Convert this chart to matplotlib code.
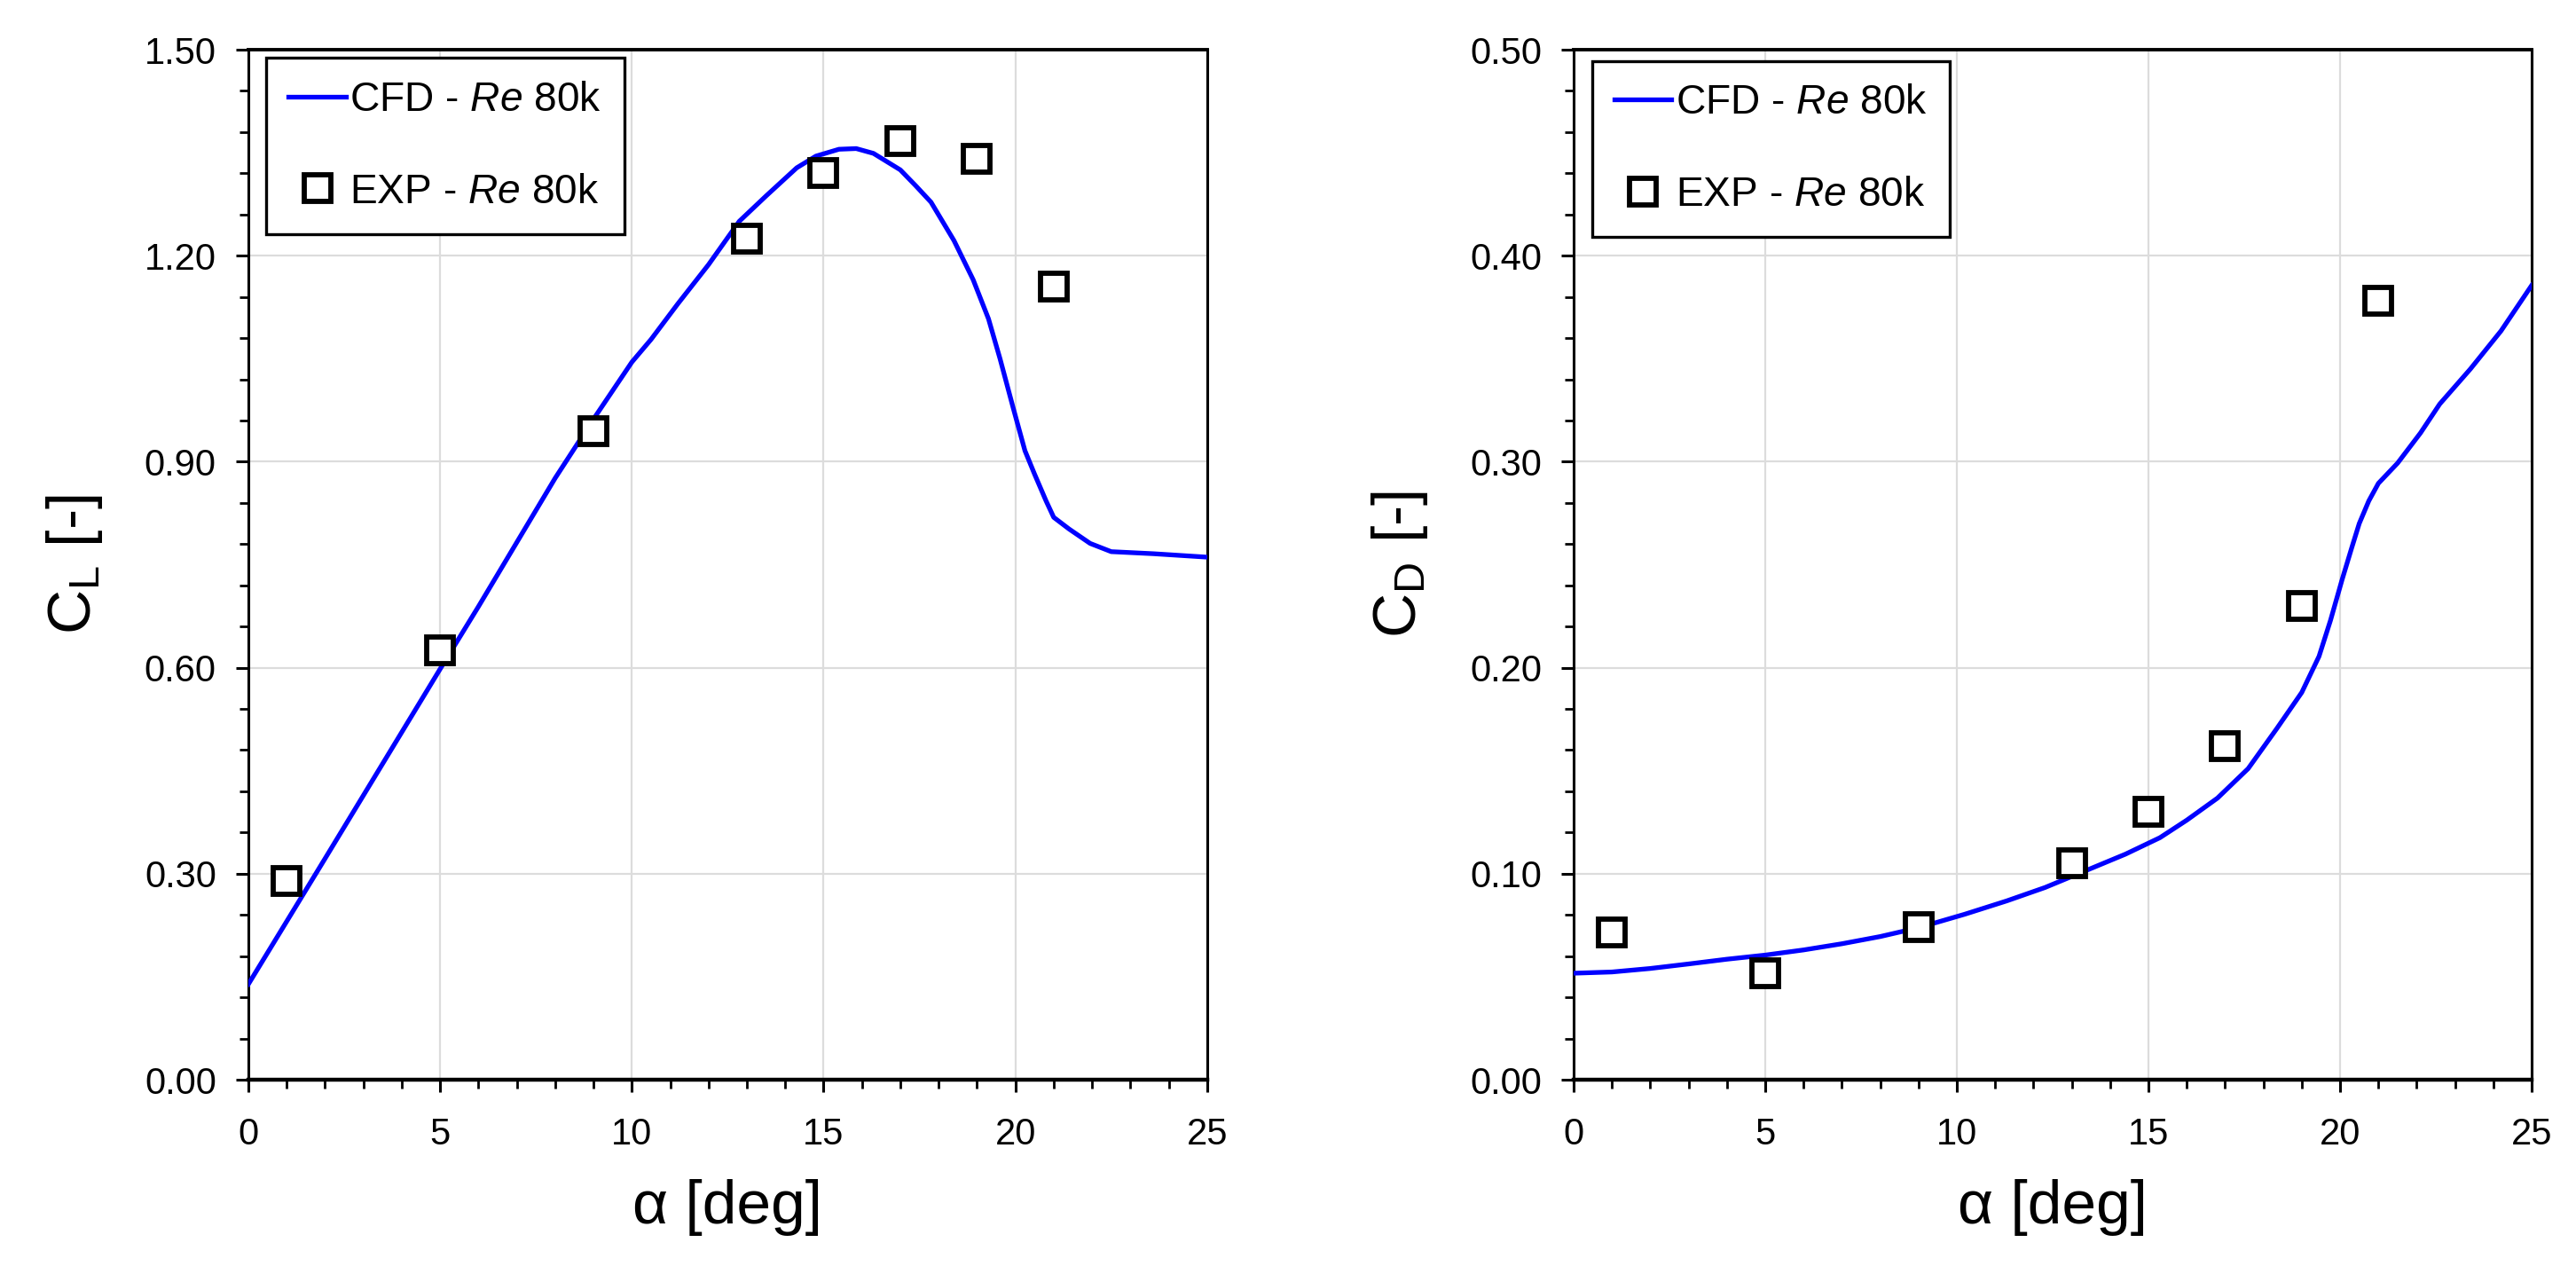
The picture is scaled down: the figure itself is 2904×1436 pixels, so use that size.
import matplotlib
matplotlib.use("Agg")
import matplotlib.pyplot as plt
from matplotlib.ticker import MultipleLocator, FormatStrFormatter

plt.rcParams['font.family'] = ['Liberation Sans', 'DejaVu Sans']
plt.rcParams['mathtext.fontset'] = 'custom'
plt.rcParams['mathtext.rm'] = 'Liberation Sans'
plt.rcParams['mathtext.it'] = 'Liberation Sans:italic'

# ---- data ----
cfd_alpha_cl = [0, 2, 4, 5, 6, 8, 9, 10, 10.5, 11.2, 12, 12.8, 13.5, 14.3, 14.8, 15.4,
                15.85, 16.3, 17.0, 17.4, 17.8, 18.4, 18.9, 19.3, 19.6, 19.95, 20.25,
                20.5, 20.8, 21.0, 21.4, 21.95, 22.5, 23.6, 25]
cfd_cl = [0.139, 0.322, 0.506, 0.598, 0.689, 0.876, 0.962, 1.045, 1.078, 1.13, 1.187,
          1.25, 1.287, 1.328, 1.345, 1.355, 1.356, 1.349, 1.325, 1.302, 1.278, 1.222,
          1.165, 1.108, 1.05, 0.977, 0.916, 0.882, 0.843, 0.819, 0.802, 0.781, 0.769,
          0.766, 0.761]

exp_alpha = [1, 5, 9, 13, 15, 17, 19, 21]
exp_cl = [0.29, 0.625, 0.945, 1.225, 1.32, 1.367, 1.341, 1.155]

cfd_alpha_cd = [0, 1, 2, 3, 4, 5, 6, 7, 8, 9, 10.2, 11.3, 12.3, 13.3, 14.4, 15.3, 16.0,
                16.8, 17.6, 18.35, 19.0, 19.45, 19.75, 20.05, 20.3, 20.5, 20.75, 21.0,
                21.5, 22.1, 22.6, 23.4, 24.2, 25]
cfd_cd = [0.0517, 0.0523, 0.054, 0.0562, 0.0585, 0.0605, 0.063, 0.066, 0.0695, 0.0738,
          0.0803, 0.0868, 0.0933, 0.101, 0.1095, 0.1175, 0.126, 0.1367, 0.151, 0.1705,
          0.188, 0.2055, 0.223, 0.2426, 0.258, 0.270, 0.281, 0.2895, 0.2993, 0.314,
          0.328, 0.345, 0.3635, 0.3856]

exp_cd = [0.0717, 0.0516, 0.074, 0.105, 0.13, 0.162, 0.23, 0.378]

cfd_label = r'CFD - $\mathit{Re}$ 80k'
exp_label = r'EXP - $\mathit{Re}$ 80k'

fig = plt.figure(figsize=(14.52, 7.18), dpi=200)
ax1 = fig.add_axes([0.0964, 0.1525, 0.3722, 0.8085])
ax2 = fig.add_axes([0.6109, 0.1525, 0.3719, 0.8085])


def style(ax, ymax, ymajor, yminor, ylabel, legxy):
    ax.set_xlim(0, 25)
    ax.set_ylim(0, ymax)
    ax.xaxis.set_major_locator(MultipleLocator(5))
    ax.xaxis.set_minor_locator(MultipleLocator(1))
    ax.yaxis.set_major_locator(MultipleLocator(ymajor))
    ax.yaxis.set_minor_locator(MultipleLocator(yminor))
    ax.yaxis.set_major_formatter(FormatStrFormatter('%.2f'))
    ax.grid(True, which='major', color='#dcdcdc', linewidth=0.8, zorder=0)
    ax.set_axisbelow(True)
    ax.tick_params(which='major', direction='out', length=5, width=1.1,
                   labelsize=15, pad=8, color='black')
    ax.tick_params(which='minor', direction='out', length=3.5, width=1.0, color='black')
    ax.tick_params(axis='x', which='major', pad=10)
    for s in ['left', 'right']:
        ax.spines[s].set_linewidth(1.1)
    ax.spines['top'].set_linewidth(1.4)
    ax.spines['bottom'].set_linewidth(1.6)
    ax.set_xlabel(r'α [deg]', fontsize=25, labelpad=11)
    ax.set_ylabel(ylabel, fontsize=25, labelpad=16)
    leg = ax.legend(loc='upper left', bbox_to_anchor=legxy, borderaxespad=0,
                    fontsize=16.6, frameon=True, fancybox=False, framealpha=1,
                    edgecolor='black', handlelength=1.4, handletextpad=0.1,
                    labelspacing=1.3, borderpad=0.55)
    leg.get_frame().set_linewidth(1.2)


ax1.plot(cfd_alpha_cl, cfd_cl, color='#0000ff', linewidth=1.9, label=cfd_label, zorder=3)
ax1.plot(exp_alpha, exp_cl, linestyle='none', marker='s', markersize=10.5,
         markerfacecolor='white', markeredgecolor='black', markeredgewidth=2.1,
         label=exp_label, zorder=4)
style(ax1, 1.5, 0.3, 0.06, r'C$_\mathrm{L}$ [-]', (0.0185, 0.992))

ax2.plot(cfd_alpha_cd, cfd_cd, color='#0000ff', linewidth=1.9, label=cfd_label, zorder=3)
ax2.plot(exp_alpha, exp_cd, linestyle='none', marker='s', markersize=10.5,
         markerfacecolor='white', markeredgecolor='black', markeredgewidth=2.1,
         label=exp_label, zorder=4)
style(ax2, 0.5, 0.1, 0.02, r'C$_\mathrm{D}$ [-]', (0.019, 0.989))

fig.savefig('out.png', dpi=200)
